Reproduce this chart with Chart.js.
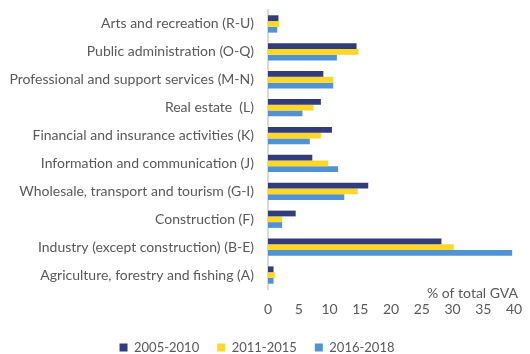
<!DOCTYPE html>
<html>
<head>
<meta charset="utf-8">
<script src="https://cdn.jsdelivr.net/npm/chart.js@4.4.0/dist/chart.umd.min.js"></script>
<style>
  html, body { margin: 0; padding: 0; background: #fff; }
  #wrap { width: 530px; height: 354px; }
</style>
</head>
<body>
<div id="wrap"><canvas id="canvas"></canvas></div>
<script>
var sectors = [
    'Arts and recreation (R-U)',
    'Public administration (O-Q)',
    'Professional and support services (M-N)',
    'Real estate  (L)',
    'Financial and insurance activities (K)',
    'Information and communication (J)',
    'Wholesale, transport and tourism (G-I)',
    'Construction (F)',
    'Industry (except construction) (B-E)',
    'Agriculture, forestry and fishing (A)'
];

var gva_0510 = [1.7, 14.4, 9.0, 8.6, 10.4, 7.2, 16.3, 4.5, 28.2, 0.9];
var gva_1115 = [1.8, 14.7, 10.6, 7.4, 8.6, 9.8, 14.6, 2.3, 30.2, 1.1];
var gva_1618 = [1.5, 11.2, 10.6, 5.6, 6.8, 11.4, 12.4, 2.3, 39.7, 0.9];

var periods = ['2005-2010', '2011-2015', '2016-2018'];
var xTicks = [0, 5, 10, 15, 20, 25, 30, 35, 40];

var FONT = 'Lato, "Open Sans", sans-serif';
var GREY = '#595959';

// axis caption sits just under the plot, right aligned, above the tick numbers
var axisCaption = {
    id: 'axisCaption',
    afterDraw: function (c) {
        var ctx = c.ctx;
        ctx.save();
        ctx.font = '14px ' + FONT;
        ctx.fillStyle = GREY;
        ctx.textAlign = 'right';
        ctx.textBaseline = 'middle';
        ctx.fillText('% of total GVA', 518, c.chartArea.bottom + 4);
        ctx.restore();
    }
};

// legend keeps its spacing between items but takes less room below them
var tightLegend = {
    id: 'tightLegend',
    beforeUpdate: function (c) {
        var lg = c.legend;
        if (!lg || lg._tight) return;
        var fit = lg.fit;
        lg.fit = function () {
            fit.call(this);
            this.height -= 10;
        };
        lg._tight = true;
    }
};

var chart = new Chart(document.getElementById('canvas').getContext('2d'), {
    type: 'bar',
    data: {
        labels: sectors,
        datasets: [
            { label: periods[0], data: gva_0510, backgroundColor: '#323c78' },
            { label: periods[1], data: gva_1115, backgroundColor: '#ffd728' },
            { label: periods[2], data: gva_1618, backgroundColor: '#5092d2' }
        ]
    },
    plugins: [axisCaption, tightLegend],
    options: {
        indexAxis: 'y',
        responsive: true,
        maintainAspectRatio: false,
        animation: false,
        layout: { padding: { top: 10, right: 16, left: 0, bottom: 0 } },
        datasets: {
            bar: { barPercentage: 1, categoryPercentage: 0.62, borderWidth: 0 }
        },
        plugins: {
            legend: {
                position: 'bottom',
                labels: {
                    boxWidth: 8,
                    boxHeight: 8,
                    padding: 18,
                    color: GREY,
                    font: { family: FONT, size: 13 }
                }
            },
            tooltip: { enabled: false }
        },
        scales: {
            x: {
                min: 0,
                max: 40,
                afterBuildTicks: function (scale) {
                    scale.ticks = xTicks.map(function (v) { return { value: v }; });
                },
                afterFit: function (scale) {
                    scale.height = 34;
                    scale.paddingLeft = 0;
                    scale.paddingRight = 0;
                },
                grid: { display: false, drawTicks: false },
                border: { display: false },
                ticks: {
                    padding: 12,
                    color: GREY,
                    font: { family: FONT, size: 14 }
                }
            },
            y: {
                afterFit: function (scale) {
                    scale.width = 268;
                    scale.paddingTop = 0;
                    scale.paddingBottom = 0;
                },
                grid: { display: false, drawTicks: false },
                border: { display: true, color: '#d9d9d9', width: 2 },
                ticks: {
                    padding: 14,
                    color: GREY,
                    font: { family: FONT, size: 14 }
                }
            }
        }
    }
});
</script>
</body>
</html>
